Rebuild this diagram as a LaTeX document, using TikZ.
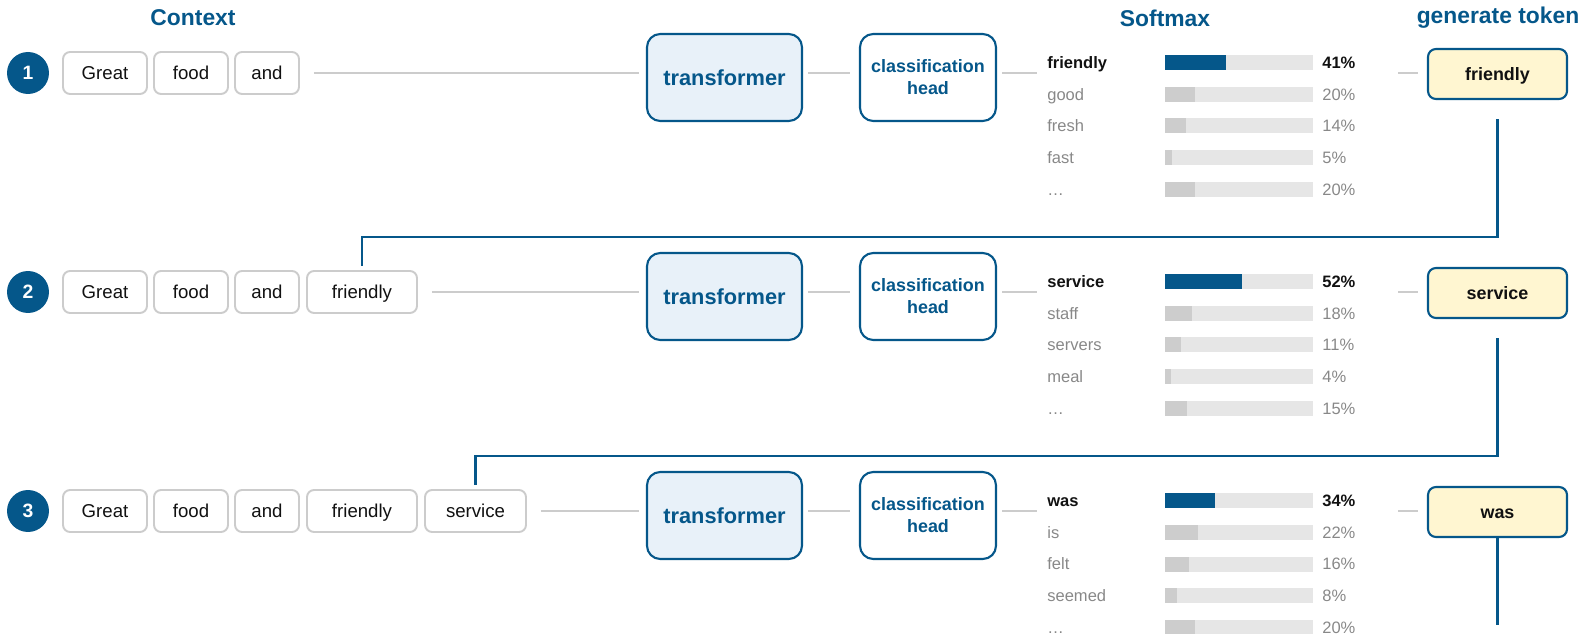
\documentclass[tikz,border=0pt]{standalone}
\usepackage{fontspec}
\setmainfont{Liberation Sans}
\usepackage{xcolor}
\usepackage{tikz}
\usetikzlibrary{calc}
\definecolor{deepBlue}{HTML}{05578A}
\definecolor{modelFill}{HTML}{E8F1F9}
\definecolor{pickFill}{HTML}{FFF6D1}
\definecolor{tokenLine}{HTML}{CCCCCC}
\definecolor{linkGrey}{HTML}{CCCCCC}
\definecolor{track}{HTML}{E6E6E6}
\definecolor{barGrey}{HTML}{CDCDCD}
\definecolor{softGrey}{HTML}{888888}
\definecolor{ink}{HTML}{111111}

\begin{document}
\begin{tikzpicture}[
  x=0.02cm, y=-0.02cm,
  every node/.style={color=ink},
  header/.style={font=\bfseries\fontsize{13}{15}\selectfont, color=deepBlue, inner sep=0pt},
  stepDot/.style={
    circle, fill=deepBlue, minimum size=0.84cm, inner sep=0pt,
    text=white, font=\bfseries\fontsize{11}{13}\selectfont
  },
  token/.style={
    rectangle, rounded corners=4pt, draw=tokenLine, line width=1.1pt,
    fill=white, minimum height=0.84cm, inner sep=0pt,
    text height=9.8pt, text depth=2.2pt,
    font=\fontsize{10.6}{12}\selectfont
  },
  model/.style={
    rectangle, rounded corners=7.5pt, draw=deepBlue, line width=1.2pt,
    fill=modelFill, minimum width=3.1cm, minimum height=1.74cm,
    align=center, text=deepBlue, font=\bfseries\fontsize{12.4}{14}\selectfont
  },
  headbox/.style={model, fill=white, minimum width=2.72cm,
    font=\bfseries\fontsize{10.2}{12.5}\selectfont},
  pick/.style={
    rectangle, rounded corners=4.5pt, draw=deepBlue, line width=1.2pt,
    fill=pickFill, minimum width=2.78cm, minimum height=1cm,
    text height=9.4pt, text depth=2.1pt,
    font=\bfseries\fontsize{10.2}{12}\selectfont
  },
  link/.style={draw=linkGrey, line width=1.1pt},
  feed/.style={draw=deepBlue, line width=1.2pt},
  word/.style={anchor=west, inner sep=0pt, text height=6.7pt, text depth=0pt,
    font=\fontsize{9.4}{11}\selectfont, text=softGrey},
  topword/.style={word, font=\bfseries\fontsize{9.4}{11}\selectfont, text=ink}
]
\useasboundingbox (0,0) rectangle (1584,634);

% --- Column headers ---
\node[header] (ctxHead) at (193,18) {Context};
\node[header] (smHead)  at (1165,18) {Softmax};
\node[header] (genHead) at (1498,18) {generate token};

% ===== Step 1 =====
\node[stepDot] (n1) at (28,73) {1};
\node[token, minimum width=1.68cm] (great1) at (105,73) {Great};
\node[token, minimum width=1.48cm] (food1)  at (191,73) {food};
\node[token, minimum width=1.28cm] (and1)   at (267,73) {and};

\node[model]    (tf1) at (724.5,77.5) {transformer};
\node[headbox]  (hd1) at (928,77.5)   {classification\\head};
\node[pick]     (gen1) at (1497.5,74) {friendly};

% softmax over the vocabulary
\node[topword] (w1) at (1047,62.5) {friendly};
\fill[track] (1165,55) rectangle (1313,70);
\fill[deepBlue] (1165,55) rectangle ++(60.7,15);
\node[topword] (p1) at (1322,62.5) {41\%};
\foreach \w/\p [count=\k] in {good/20, fresh/14, fast/5, {\ldots}/20} {
  \node[word] (w1-\k) at (1047,62.5+31.75*\k) {\w};
  \fill[track] (1165,55+31.75*\k) rectangle ++(148,15);
  \fill[barGrey] (1165,55+31.75*\k) rectangle ++(1.48*\p,15);
  \node[word] (p1-\k) at (1322,62.5+31.75*\k) {\p\%};
}
\coordinate (sm1in)  at (1037,73);
\coordinate (sm1out) at (1398,73);

\draw[link, shorten <=0.28cm, shorten >=0.14cm] (and1.east) -- (and1.east -| tf1.west);
\draw[link, shorten <=0.1cm, shorten >=0.18cm] (tf1.east |- and1.east) -- (hd1.west |- and1.east);
\draw[link, shorten <=0.1cm] (hd1.east |- and1.east) -- (sm1in);
\draw[link, shorten >=0.18cm] (sm1out) -- (sm1out -| gen1.west);

% ===== Step 2 =====
\node[stepDot] (n2) at (28,292) {2};
\node[token, minimum width=1.68cm] (great2)    at (105,292) {Great};
\node[token, minimum width=1.48cm] (food2)     at (191,292) {food};
\node[token, minimum width=1.28cm] (and2)      at (267,292) {and};
\node[token, minimum width=2.2cm]  (friendly2) at (362,292) {friendly};

\node[model]    (tf2) at (724.5,296.5) {transformer};
\node[headbox]  (hd2) at (928,296.5)   {classification\\head};
\node[pick]     (gen2) at (1497.5,293) {service};

\node[topword] (w2) at (1047,281.5) {service};
\fill[track] (1165,274) rectangle (1313,289);
\fill[deepBlue] (1165,274) rectangle ++(77,15);
\node[topword] (p2) at (1322,281.5) {52\%};
\foreach \w/\p [count=\k] in {staff/18, servers/11, meal/4, {\ldots}/15} {
  \node[word] (w2-\k) at (1047,281.5+31.75*\k) {\w};
  \fill[track] (1165,274+31.75*\k) rectangle ++(148,15);
  \fill[barGrey] (1165,274+31.75*\k) rectangle ++(1.48*\p,15);
  \node[word] (p2-\k) at (1322,281.5+31.75*\k) {\p\%};
}
\coordinate (sm2in)  at (1037,292);
\coordinate (sm2out) at (1398,292);

\draw[link, shorten <=0.28cm, shorten >=0.14cm] (friendly2.east) -- (friendly2.east -| tf2.west);
\draw[link, shorten <=0.1cm, shorten >=0.18cm] (tf2.east |- friendly2.east) -- (hd2.west |- friendly2.east);
\draw[link, shorten <=0.1cm] (hd2.east |- friendly2.east) -- (sm2in);
\draw[link, shorten >=0.18cm] (sm2out) -- (sm2out -| gen2.west);

% ===== Step 3 =====
\node[stepDot] (n3) at (28,511) {3};
\node[token, minimum width=1.68cm] (great3)    at (105,511) {Great};
\node[token, minimum width=1.48cm] (food3)     at (191,511) {food};
\node[token, minimum width=1.28cm] (and3)      at (267,511) {and};
\node[token, minimum width=2.2cm]  (friendly3) at (362,511) {friendly};
\node[token, minimum width=2.02cm] (service3)  at (475.5,511) {service};

\node[model]    (tf3) at (724.5,515.5) {transformer};
\node[headbox]  (hd3) at (928,515.5)   {classification\\head};
\node[pick]     (gen3) at (1497.5,512) {was};

\node[topword] (w3) at (1047,500.5) {was};
\fill[track] (1165,493) rectangle (1313,508);
\fill[deepBlue] (1165,493) rectangle ++(50.3,15);
\node[topword] (p3) at (1322,500.5) {34\%};
\foreach \w/\p [count=\k] in {is/22, felt/16, seemed/8, {\ldots}/20} {
  \node[word] (w3-\k) at (1047,500.5+31.75*\k) {\w};
  \fill[track] (1165,493+31.75*\k) rectangle ++(148,15);
  \fill[barGrey] (1165,493+31.75*\k) rectangle ++(1.48*\p,15);
  \node[word] (p3-\k) at (1322,500.5+31.75*\k) {\p\%};
}
\coordinate (sm3in)  at (1037,511);
\coordinate (sm3out) at (1398,511);

\draw[link, shorten <=0.28cm, shorten >=0.14cm] (service3.east) -- (service3.east -| tf3.west);
\draw[link, shorten <=0.1cm, shorten >=0.18cm] (tf3.east |- service3.east) -- (hd3.west |- service3.east);
\draw[link, shorten <=0.1cm] (hd3.east |- service3.east) -- (sm3in);
\draw[link, shorten >=0.18cm] (sm3out) -- (sm3out -| gen3.west);

% --- Generated token fed back into the next context ---
\coordinate (knee1) at (0,237);
\coordinate (knee2) at (0,456);
\coordinate (tail)  at (0,625);
\draw[feed] ([yshift=-0.38cm]gen1.south) -- (gen1.south |- knee1) -| ([yshift=0.08cm]friendly2.north);
\draw[feed] ([yshift=-0.38cm]gen2.south) -- (gen2.south |- knee2) -| ([yshift=0.08cm]service3.north);
\draw[feed] (gen3.south) -- (gen3.south |- tail);

\end{tikzpicture}
\end{document}
